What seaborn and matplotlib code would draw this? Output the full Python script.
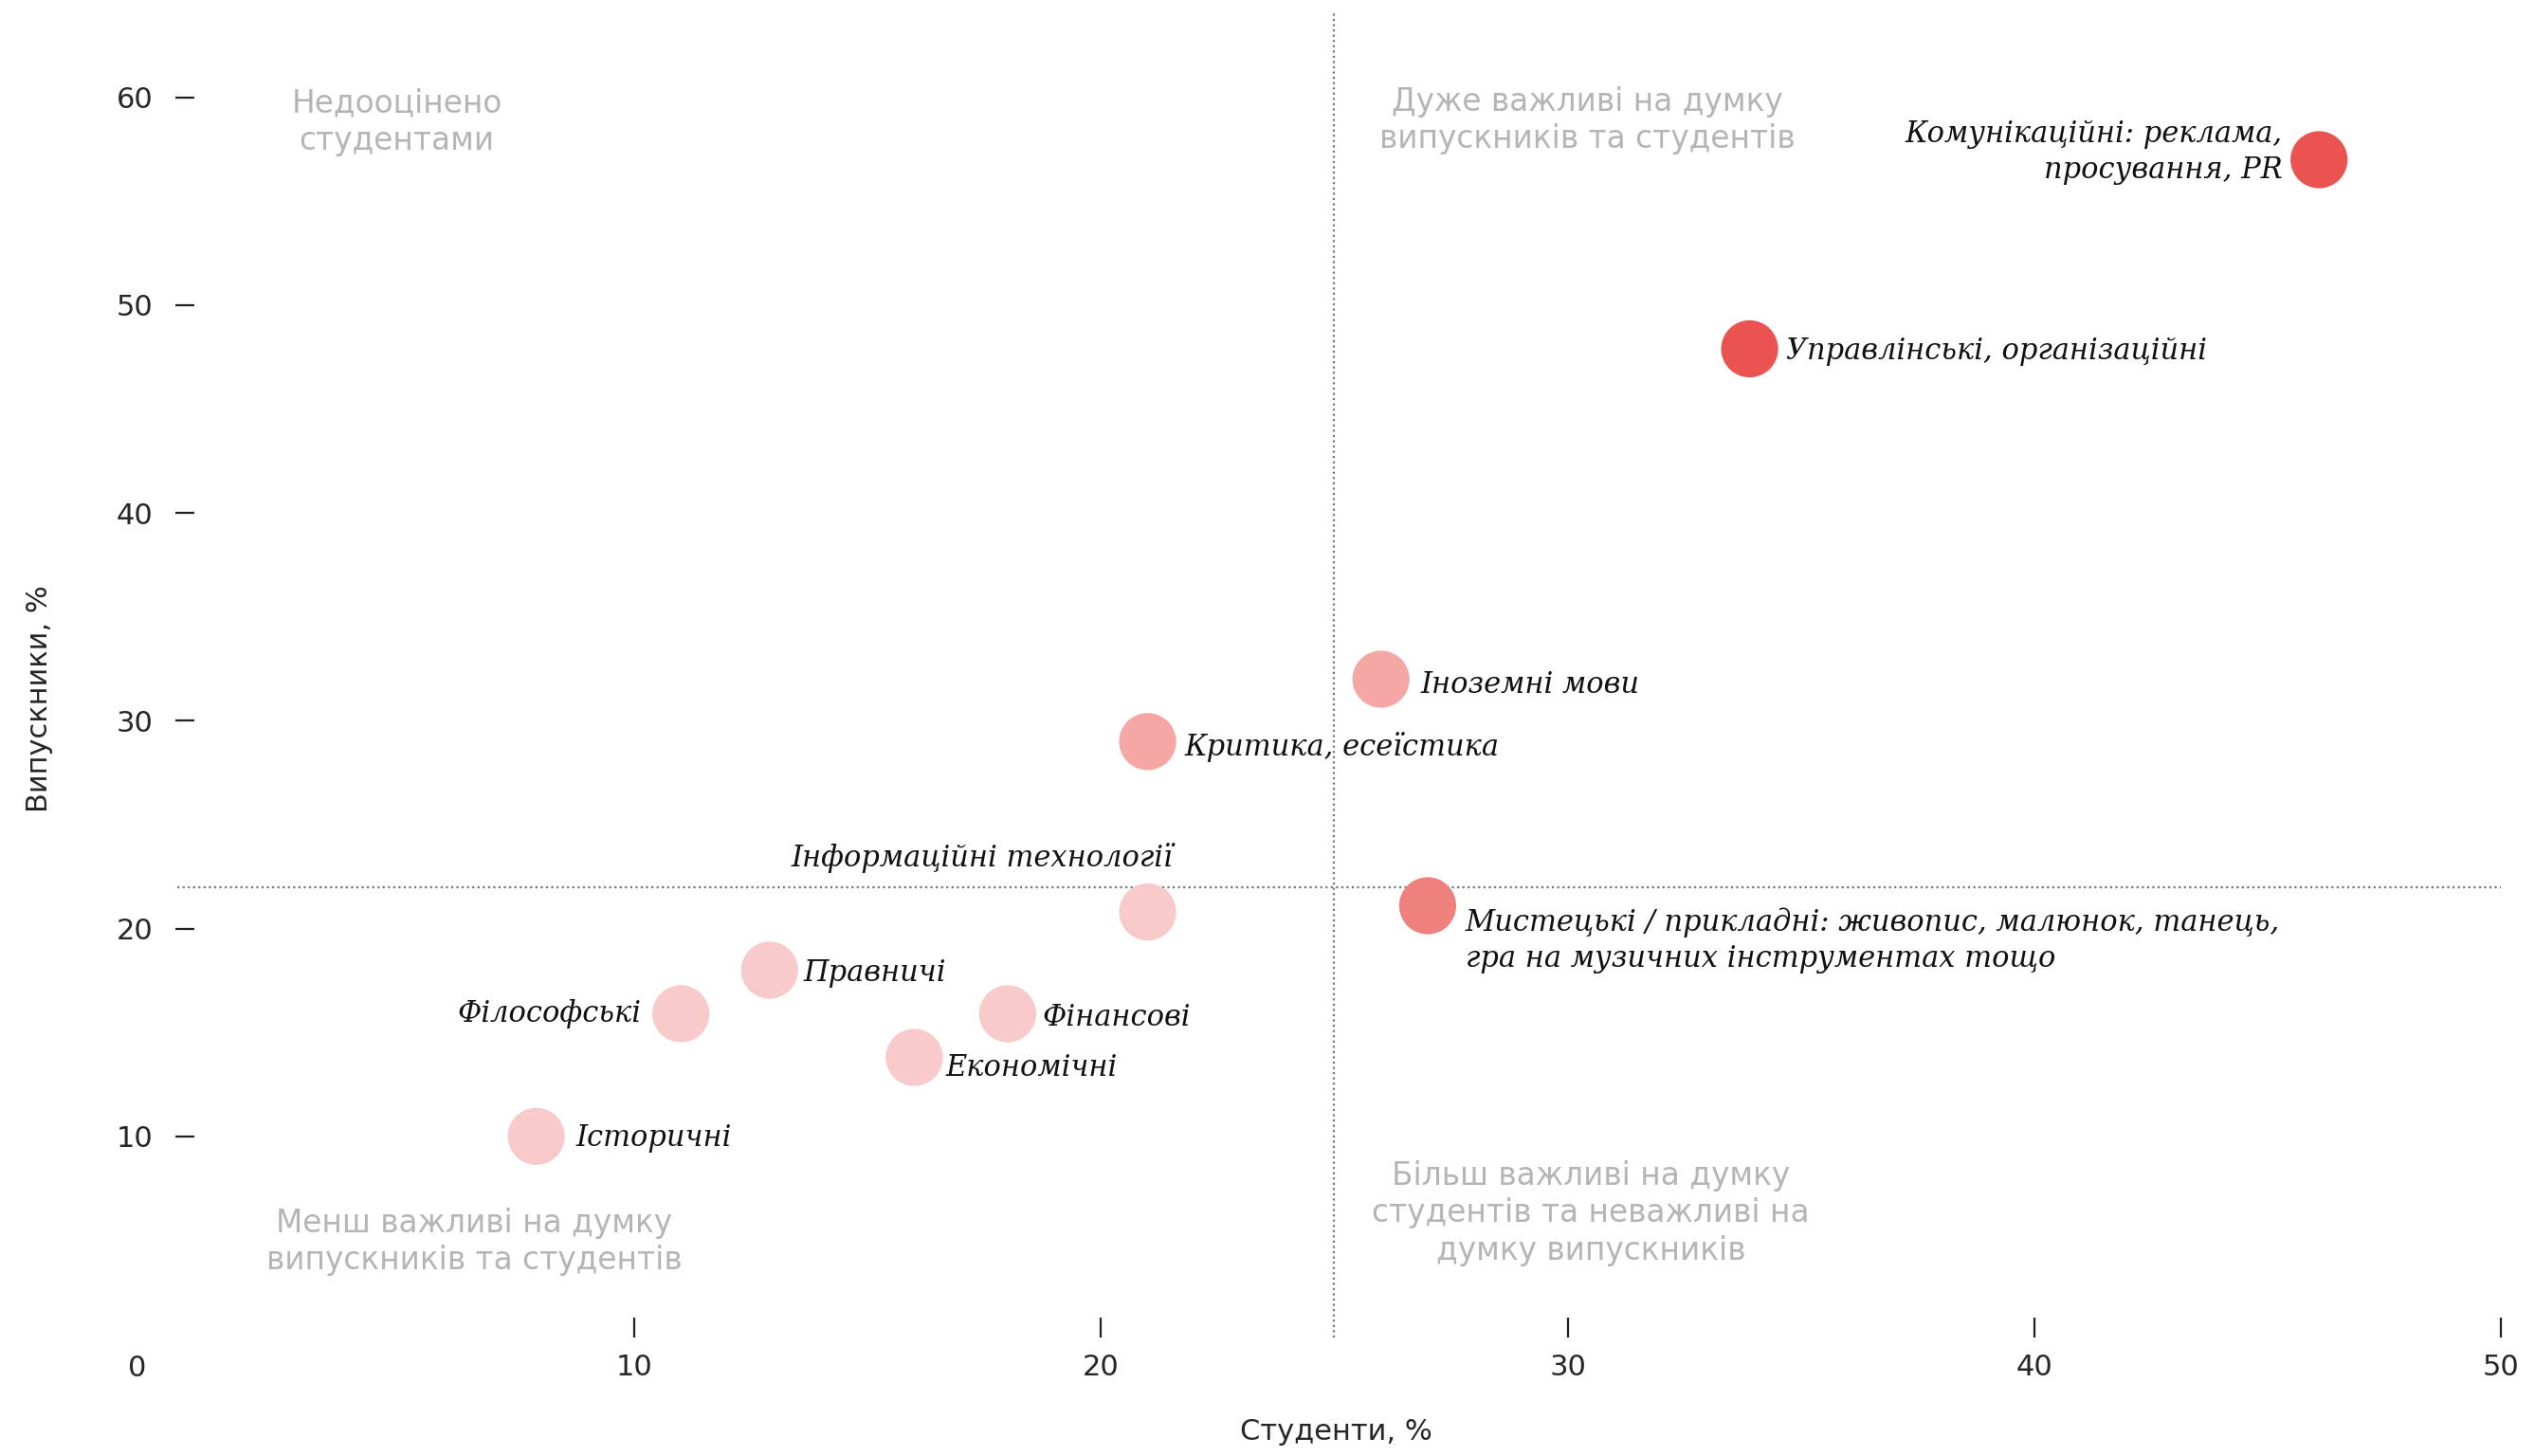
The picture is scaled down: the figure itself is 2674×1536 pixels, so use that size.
import matplotlib
matplotlib.use("Agg")
import matplotlib.pyplot as plt
import seaborn as sns
import pandas as pd

# data
skills = [
    "Комунікаційні: реклама,\nпросування, PR",
    "Управлінські, організаційні",
    "Іноземні мови",
    "Критика, есеїстика",
    "Інформаційні технології",
    "Мистецькі / прикладні: живопис, малюнок, танець,\nгра на музичних інструментах тощо",
    "Правничі",
    "Філософські",
    "Фінансові",
    "Економічні",
    "Історичні",
]
students = [46.1, 33.9, 26, 21, 21, 27, 12.9, 11, 18, 16, 7.9]
graduates = [57, 47.9, 32, 29, 20.8, 21.1, 18, 15.9, 15.9, 13.8, 10]
level = ["high", "high", "low", "low", "min", "mid", "min", "min", "min", "min", "min"]

palette = {"high": "#EB5350", "mid": "#EE817E", "low": "#F4A7A5", "min": "#F8CACA"}

# label offsets in points (dx, dy, ha)
label_pos = [
    (-14, 3, "right"),
    (14, -1, "left"),
    (15, -2, "left"),
    (14, -2, "left"),
    (-63, 20.5, "center"),
    (14.4, -13.3, "left"),
    (13, -1, "left"),
    (-15, 0, "right"),
    (13, -1.5, "left"),
    (12, -4, "left"),
    (15, -0.5, "left"),
]

quadrants = [
    (4.91, 58.8, "Недооцінено\nстудентами"),
    (30.43, 58.9, "Дуже важливі на думку\nвипускників та студентів"),
    (6.57, 4.93, "Менш важливі на думку\nвипускників та студентів"),
    (30.5, 6.3, "Більш важливі на думку\nстудентів та неважливі на\nдумку випускників"),
]

df = pd.DataFrame({"skill": skills, "students": students,
                   "graduates": graduates, "level": level})

sns.set_style("white")
plt.rcParams["font.family"] = ["DejaVu Sans"]

fig = plt.figure(figsize=(13.37, 7.68), dpi=200)
ax = fig.add_axes([0.0661, 0.0768, 0.9205, 0.9154])

sns.scatterplot(data=df, x="students", y="graduates", hue="level",
                palette=palette, s=470, linewidth=0, legend=False,
                ax=ax, zorder=3)

ax.set_xlim(0, 50)
ax.set_ylim(0, 64.14)

# dotted split lines
ax.axvline(25, ymin=0.005, ymax=1, color="#777777", lw=0.8, ls=(0, (1, 1.5)), zorder=1)
ax.axhline(22, xmin=0.004, xmax=1, color="#777777", lw=0.8, ls=(0, (1, 1.5)), zorder=1)

for i, row in df.iterrows():
    dx, dy, ha = label_pos[i]
    ax.annotate(row["skill"], (row["students"], row["graduates"]),
                xytext=(dx, dy), textcoords="offset points", ha=ha, va="center",
                fontsize=11, family="DejaVu Serif", style="italic",
                color="#111111", linespacing=1.3, zorder=4)

for qx, qy, txt in quadrants:
    ax.text(qx, qy, txt, ha="center", va="center", fontsize=11.8,
            color="#B5B5B5", linespacing=1.25)

for side in ["top", "right"]:
    ax.spines[side].set_visible(False)
ax.spines["left"].set_position(("data", 0.57))
ax.spines["bottom"].set_position(("data", 1.28))
ax.spines["left"].set_color("none")
ax.spines["bottom"].set_color("none")

ax.set_xticks([10, 20, 30, 40, 50])
ax.set_yticks([10, 20, 30, 40, 50, 60])
ax.tick_params(axis="y", direction="out", length=7.2, width=0.8, pad=8.5,
               labelsize=11, color="#222222", left=True)
ax.tick_params(axis="x", direction="out", length=7.6, width=0.8, pad=6,
               labelsize=11, color="#222222", bottom=True)

ax.text(-0.66, -1.14, "0", ha="center", va="center", fontsize=11, clip_on=False)

ax.set_xlabel("")
ax.set_ylabel("")
fig.text(0.527, 0.007, "Студенти, %", ha="center", va="bottom", fontsize=11)
fig.text(0.0155, 0.52, "Випускники, %", ha="center", va="center",
         rotation=90, fontsize=11)

fig.savefig("out.png", dpi=200)
